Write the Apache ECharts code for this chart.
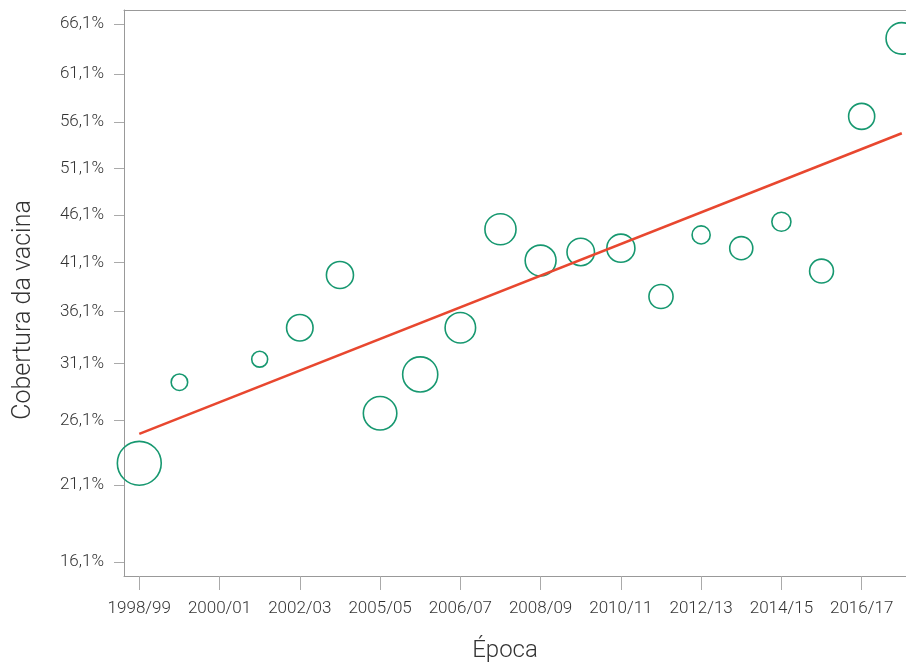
<!DOCTYPE html>
<html>
<head>
<meta charset="utf-8">
<script src="https://cdn.jsdelivr.net/npm/echarts@6/dist/echarts.min.js"></script>
<style>
  html, body { margin: 0; padding: 0; background: #fff; }
  #chart { width: 906px; height: 664px; }
</style>
</head>
<body>
<div id="chart"></div>
<script>
// epocas (indice 0 = 1998/99)
var epocas = ['1998/99', '1999/00', '2000/01', '2001/02', '2002/03', '2003/04', '2004/05',
    '2005/06', '2006/07', '2007/08', '2008/09', '2009/10', '2010/11', '2011/12',
    '2012/13', '2013/14', '2014/15', '2015/16', '2016/17', '2017/18'];
// rotulos do eixo x, um a cada duas epocas (como no original)
var rotulosX = ['1998/99', '2000/01', '2002/03', '2005/05', '2006/07',
    '2008/09', '2010/11', '2012/13', '2014/15', '2016/17'];
// cobertura da vacina (%) por epoca
var cobertura = [22.7, 29.4, null, 31.5, 34.5, 39.8, 26.7, 30.1, 34.5, 44.6,
    41.3, 42.2, 42.6, 37.6, 44.0, 42.6, 45.4, 40.2, 56.7, 64.7];
// tamanho relativo da amostra (area da bolha)
var amostra = [515, 81, null, 76, 196, 204, 306, 335, 256, 266,
    262, 210, 219, 164, 96, 151, 106, 161, 190, 272];
// reta de tendencia (%), na primeira e na ultima epoca
var tendencia = [25.0, 54.9];
// marcas do eixo y (%)
var ticksY = [16.1, 21.1, 26.1, 31.1, 36.1, 41.1, 46.1, 51.1, 56.1, 61.1, 66.1];

function logit(p) { p = p / 100; return Math.log(p / (1 - p)); }
function invLogit(v) { return 100 / (1 + Math.exp(-v)); }

var chart = echarts.init(document.getElementById('chart'));

var yLo = logit(ticksY[0]), yHi = logit(ticksY[ticksY.length - 1]);
var pad = (yHi - yLo) * 14 / 538;

var pontos = [];
cobertura.forEach(function (v, i) {
    if (v != null) pontos.push([i, logit(v), amostra[i]]);
});

var ticksX = rotulosX.map(function (_, k) { return k * 2; });
var fonte = 'Roboto, Liberation Sans, sans-serif';

var option = {
    animation: false,
    grid: { left: 124, right: 0, top: 10, bottom: 88, outerBoundsMode: 'none', containLabel: false },
    xAxis: [{
        type: 'value',
        min: -0.381,
        max: 19.105,
        name: 'Época',
        nameLocation: 'middle',
        nameGap: 63,
        nameTextStyle: { fontSize: 24, color: '#333', fontFamily: fonte, fontWeight: 300, padding: [0, 20, 0, 0] },
        axisLine: { onZero: false, lineStyle: { color: '#999', width: 1 } },
        axisTick: { show: true, length: 14, customValues: ticksX, lineStyle: { color: '#aaa' } },
        splitLine: { show: false },
        axisLabel: {
            customValues: ticksX,
            margin: 24,
            fontSize: 17,
            fontWeight: 300,
            color: '#333',
            fontFamily: fonte,
            formatter: function (v) { return rotulosX[Math.round(v / 2)]; }
        }
    }, {
        type: 'value',
        position: 'top',
        min: -0.381,
        max: 19.105,
        axisLine: { show: true, onZero: false, lineStyle: { color: '#999', width: 1 } },
        axisTick: { show: false },
        axisLabel: { show: false },
        splitLine: { show: false }
    }],
    yAxis: {
        type: 'value',
        min: yLo - pad,
        max: yHi + pad,
        name: 'Cobertura da vacina',
        nameLocation: 'middle',
        nameGap: 88,
        nameTextStyle: { fontSize: 25, color: '#333', fontFamily: fonte, fontWeight: 300, padding: [0, 34, 0, 0] },
        axisLine: { show: true, onZero: false, lineStyle: { color: '#999', width: 1 } },
        axisTick: { show: true, length: 10, customValues: ticksY.map(logit), lineStyle: { color: '#aaa' } },
        splitLine: { show: false },
        axisLabel: {
            customValues: ticksY.map(logit),
            margin: 20,
            fontSize: 17,
            fontWeight: 300,
            color: '#333',
            fontFamily: fonte,
            formatter: function (v) { return invLogit(v).toFixed(1).replace('.', ',') + '%'; }
        }
    },
    series: [{
        type: 'scatter',
        data: pontos,
        symbol: 'circle',
        symbolSize: function (d) { return 2 * Math.sqrt(d[2]) - 1.5; },
        itemStyle: { color: 'rgba(0,0,0,0)', borderColor: '#179870', borderWidth: 1.6, opacity: 1 },
        z: 2
    }, {
        type: 'line',
        data: [[0, logit(tendencia[0])], [19, logit(tendencia[1])]],
        symbol: 'none',
        lineStyle: { color: '#e8472f', width: 2.6 },
        z: 3
    }]
};

chart.setOption(option);
</script>
</body>
</html>
